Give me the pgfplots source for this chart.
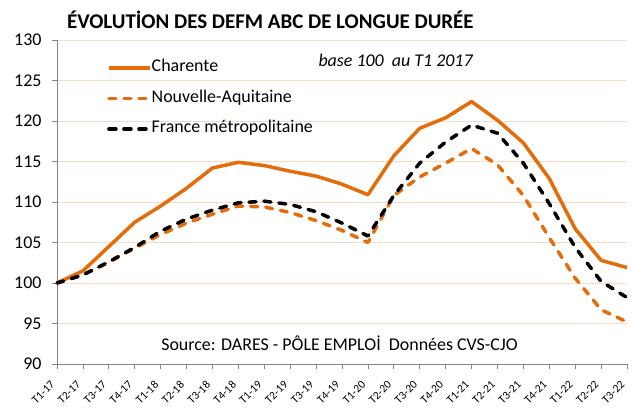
\documentclass[border=0pt]{standalone}
\usepackage{pgfplots}
\pgfplotsset{compat=1.18}
\usepackage{pgfplotstable}
\usepackage{fontspec}
\setmainfont{Carlito}
\definecolor{orng}{RGB}{228,108,10}
\definecolor{gridc}{RGB}{252,218,190}
\definecolor{axc}{RGB}{134,134,134}

\pgfplotstableread{
x charente nouvaq france
0 100.0 100.0 100.0
1 101.5 101.0 101.0
2 104.5 102.6 102.6
3 107.5 104.3 104.4
4 109.5 106.0 106.4
5 111.7 107.4 107.9
6 114.2 108.5 109.0
7 114.9 109.5 109.9
8 114.5 109.4 110.1
9 113.8 108.7 109.7
10 113.2 107.7 108.8
11 112.2 106.5 107.4
12 110.9 105.0 105.8
13 115.7 110.8 110.8
14 119.1 113.1 114.8
15 120.4 114.8 117.4
16 122.4 116.6 119.5
17 120.1 114.6 118.5
18 117.3 110.8 114.8
19 112.9 105.6 109.8
20 106.7 100.6 104.4
21 102.8 96.7 100.2
22 101.9 95.2 98.2
}\datatable

\begin{document}
\begin{tikzpicture}
\begin{axis}[
  scale only axis,
  width=570bp, height=324bp,
  xmin=0, xmax=22, ymin=90, ymax=130,
  ytick={90,95,...,130},
  xtick={0,...,22},
  xticklabels={T1-17,T2-17,T3-17,T4-17,T1-18,T2-18,T3-18,T4-18,T1-19,T2-19,T3-19,T4-19,T1-20,T2-20,T3-20,T4-20,T1-21,T2-21,T3-21,T4-21,T1-22,T2-22,T3-22},
  x tick label style={xshift=-7bp, yshift=-11bp, rotate=45, anchor=north east, font=\fontsize{11.5}{12}\selectfont, inner sep=0pt},
  y tick label style={font=\fontsize{18}{20}\selectfont, xshift=-7bp},
  /pgf/number format/assume math mode=true,
  axis x line=bottom, axis y line=left,
  axis line style={-, axc, line width=0.8pt},
  tick style={axc, line width=0.8pt},
  tick align=outside,
  major tick length=5bp,
  ymajorgrids, grid style={gridc, line width=1pt},
  legend style={at={(rel axis cs:0.0877,0.939)}, anchor=north west, draw=none, fill=none,
     font=\fontsize{18}{18}\selectfont, row sep=14.5bp, inner sep=0pt,
     nodes={text height=12bp, text depth=4bp, inner sep=0pt}},
  legend cell align=left,
  legend image code/.code={\draw[#1] (0bp,0bp) -- (41bp,0bp);},
  clip=false,
]
\addplot[orng, line width=3.5bp, line join=round] table[x=x,y=charente]{\datatable};
\addlegendentry{Charente}
\addplot[orng, line width=3.5bp, dash pattern=on 7bp off 8bp, line cap=round, line join=round] table[x=x,y=nouvaq]{\datatable};
\addlegendentry{Nouvelle-Aquitaine}
\addplot[black, line width=3.5bp, dash pattern=on 7bp off 8bp, line cap=round, line join=round] table[x=x,y=france]{\datatable};
\addlegendentry{France métropolitaine}
\node[anchor=base west, inner sep=0pt, font=\fontsize{21}{23}\selectfont\bfseries] at (rel axis cs:0.0175,1.034) {ÉVOLUTİON DES DEFM ABC DE LONGUE DURÉE};
\node[anchor=base, inner sep=0pt, font=\fontsize{18}{20}\selectfont\itshape] at (rel axis cs:0.594,0.9176) {base 100~ au T1 2017};
\node[anchor=base, inner sep=0pt, font=\fontsize{18}{20}\selectfont] at (rel axis cs:0.4956,0.0432) {Source: DARES - PÔLE EMPLOİ~ Données CVS-CJO};
\path (rel axis cs:-0.1,-0.148) coordinate (bl) (rel axis cs:1.00877,1.1235) coordinate (tr);
\end{axis}
\pgfresetboundingbox
\path[use as bounding box] (bl) rectangle (tr);
\end{tikzpicture}
\end{document}
